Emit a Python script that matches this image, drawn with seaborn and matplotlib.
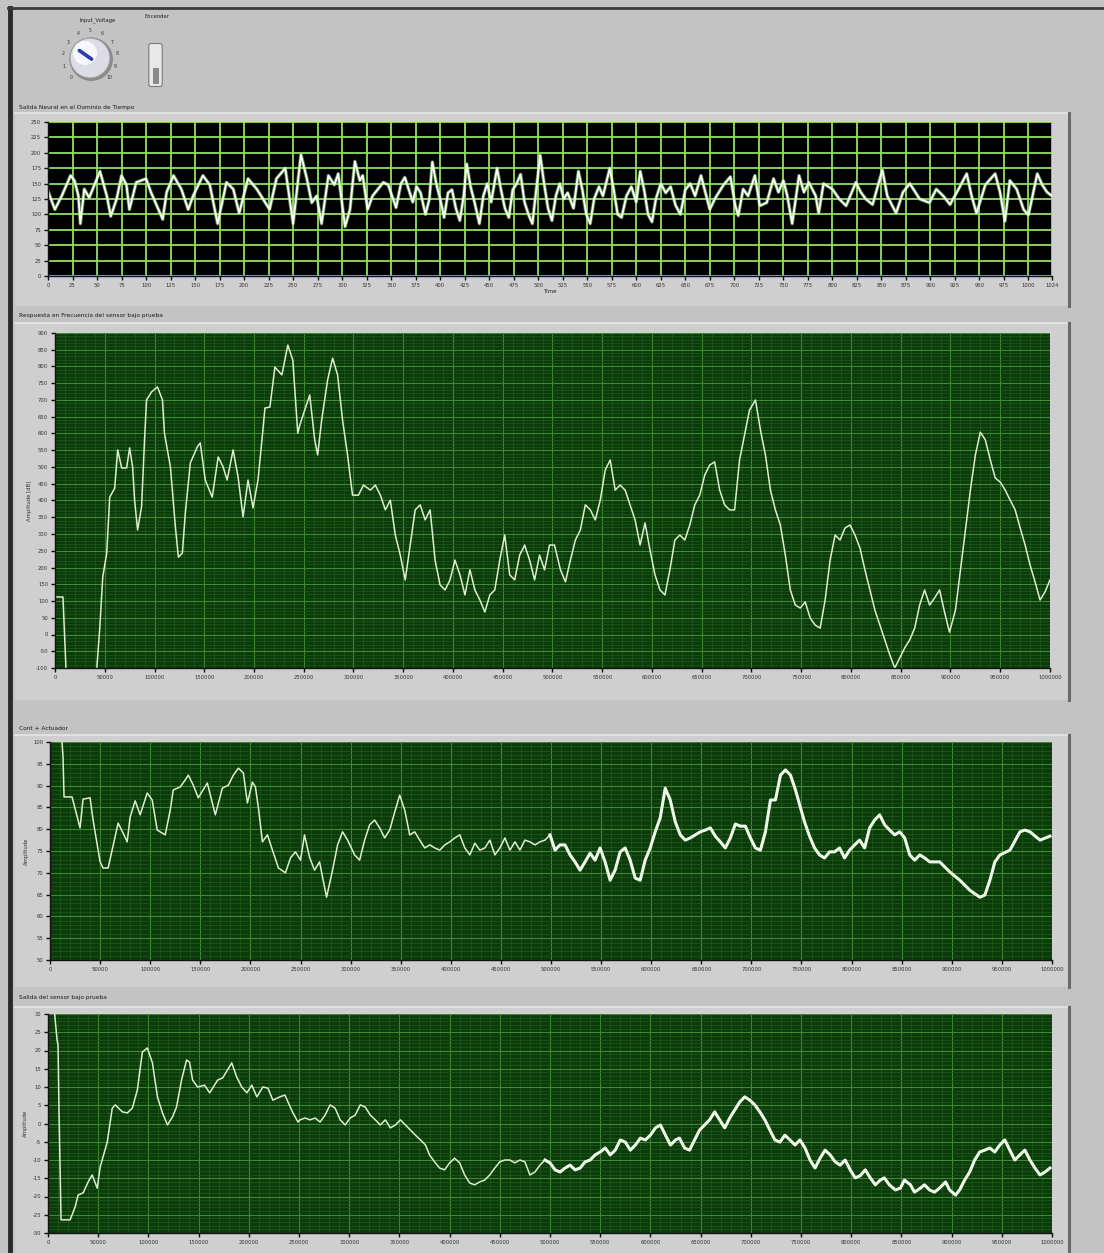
import numpy as np
import pandas as pd
import matplotlib
matplotlib.use("Agg")
import matplotlib.pyplot as plt
import matplotlib.patches as mpatches
from matplotlib.ticker import FixedLocator, MultipleLocator, FuncFormatter
import seaborn as sns

# ---------------- data ----------------
# Panel 1: neural output in time domain
neural_t = [0, 7, 14, 23, 27, 31, 33, 37, 42, 53, 60, 64, 70, 75, 80, 83, 90, 100, 105, 117,
            121, 128, 136, 143, 148, 158, 165, 173, 182, 189, 195, 204, 213, 226, 233, 242, 250,
            258, 264, 269, 274, 279, 286, 292, 296, 303, 308, 313, 318, 321, 326, 331, 342, 347,
            355, 360, 364, 368, 372, 376, 380, 385, 389, 392, 396, 400, 404, 408, 412, 416, 420,
            424, 427, 431, 435, 440, 444, 448, 452, 458, 462, 466, 470, 474, 478, 482, 486, 490,
            494, 498, 502, 506, 510, 514, 518, 522, 526, 530, 536, 541, 545, 549, 553, 557, 562,
            566, 573, 577, 581, 585, 590, 595, 600, 604, 608, 612, 616, 620, 625, 630, 635, 640,
            645, 650, 655, 660, 666, 675, 680, 689, 696, 701, 704, 709, 714, 721, 726, 733, 740,
            745, 750, 754, 759, 766, 771, 776, 783, 786, 791, 800, 807, 814, 824, 829, 834, 841,
            851, 856, 865, 872, 879, 889, 899, 906, 913, 920, 927, 937, 942, 947, 956, 966, 971,
            976, 981, 988, 995, 1000, 1009, 1014, 1019, 1024]
neural_v = [138, 108, 130, 163, 155, 130, 85, 141, 127, 170, 130, 97, 125, 163, 148, 108, 152, 158,
            136, 92, 136, 163, 141, 108, 130, 163, 148, 85, 152, 141, 102, 158, 141, 108, 158, 175,
            85, 197, 158, 119, 130, 85, 163, 148, 166, 80, 108, 186, 155, 163, 108, 130, 152, 148,
            111, 150, 160, 140, 120, 145, 135, 100, 125, 185, 150, 125, 95, 135, 140, 110, 90,
            130, 182, 145, 120, 85, 130, 150, 120, 175, 140, 110, 95, 140, 150, 165, 120, 100,
            85, 140, 196, 150, 110, 90, 130, 150, 125, 135, 110, 170, 140, 100, 85, 125, 145,
            130, 175, 140, 100, 95, 130, 145, 120, 170, 140, 100, 88, 125, 150, 135, 145, 115,
            100, 140, 150, 130, 163, 108, 125, 148, 161, 114, 98, 141, 130, 163, 114, 119, 158,
            136, 155, 130, 85, 163, 136, 152, 130, 102, 150, 141, 125, 114, 152, 136, 125, 116,
            172, 130, 102, 136, 150, 125, 119, 141, 130, 116, 136, 166, 130, 102, 148, 166, 136,
            89, 155, 141, 108, 99, 166, 148, 136, 130]

# Panel 2: frequency response (Hz, dB)
resp_f = [0, 3000, 8000, 11000, 13000, 40000, 42000, 45000, 48000, 52000, 55000, 60000, 63000,
          67000, 72000, 75000, 78000, 80000, 83000, 87000, 90000, 92000, 97000, 103000, 108000,
          110000, 116000, 121000, 124000, 128000, 131000, 136000, 143000, 146000, 151000, 158000,
          164000, 169000, 173000, 179000, 184000, 189000, 194000, 199000, 204000, 208000, 211000,
          216000, 221000, 228000, 234000, 239000, 244000, 246000, 251000, 256000, 261000, 264000,
          268000, 274000, 279000, 284000, 289000, 294000, 299000, 305000, 310000, 317000, 322000,
          327000, 332000, 337000, 342000, 347000, 352000, 357000, 362000, 367000, 372000, 377000,
          382000, 387000, 392000, 397000, 402000, 407000, 412000, 417000, 422000, 427000, 432000,
          437000, 442000, 447000, 452000, 457000, 462000, 467000, 472000, 477000, 482000, 487000,
          492000, 497000, 502000, 508000, 513000, 518000, 523000, 528000, 533000, 538000, 543000,
          548000, 553000, 558000, 563000, 568000, 573000, 578000, 583000, 588000, 593000, 598000,
          603000, 608000, 613000, 618000, 623000, 628000, 633000, 638000, 643000, 648000, 653000,
          658000, 663000, 668000, 673000, 678000, 683000, 688000, 693000, 698000, 704000, 709000,
          714000, 719000, 724000, 729000, 734000, 739000, 744000, 749000, 754000, 759000, 764000,
          769000, 774000, 779000, 784000, 789000, 794000, 799000, 804000, 809000, 814000, 819000,
          824000, 829000, 834000, 839000, 844000, 849000, 854000, 859000, 864000, 869000, 874000,
          879000, 884000, 889000, 894000, 899000, 905000, 910000, 915000, 920000, 925000, 930000,
          935000, 940000, 945000, 950000, 955000, 960000, 965000, 970000, 975000, 980000, 985000,
          990000, 995000, 1000000]
resp_db = [112, 112, 112, -100, -195, -195, -100, 19, 172, 243, 410, 437, 551, 497, 497, 557, 500,
           401, 312, 381, 581, 700, 724, 739, 700, 601, 500, 321, 231, 243, 363, 512, 560, 572,
           461, 410, 530, 500, 461, 551, 470, 351, 461, 378, 461, 581, 676, 679, 798, 775, 864,
           819, 601, 625, 670, 715, 581, 536, 640, 760, 825, 775, 640, 536, 416, 416, 446, 431,
           446, 416, 372, 401, 297, 237, 163, 267, 372, 387, 342, 372, 222, 148, 133, 163, 222,
           178, 118, 193, 133, 103, 67, 118, 133, 222, 297, 178, 163, 237, 267, 222, 163, 237,
           193, 267, 267, 193, 157, 222, 282, 312, 387, 372, 342, 401, 491, 521, 431, 446, 431,
           387, 342, 267, 333, 252, 178, 133, 118, 193, 282, 297, 282, 327, 387, 416, 476, 506,
           515, 431, 387, 372, 372, 521, 596, 670, 700, 610, 536, 431, 372, 327, 237, 133, 88,
           79, 97, 49, 28, 19, 103, 222, 297, 282, 318, 327, 297, 258, 193, 133, 73, 28, -16,
           -61, -100, -70, -40, -16, 19, 88, 133, 88, 109, 133, 67, 7, 73, 193, 312, 431, 536,
           604, 581, 521, 467, 455, 431, 401, 372, 318, 267, 207, 157, 103, 127, 163]

# Panel 3: controller + actuator
act_f = [0, 11000, 12000, 13000, 14000, 22000, 28000, 30000, 33000, 40000, 43000, 50000, 53000,
         58000, 62000, 68000, 73000, 77000, 80000, 85000, 90000, 97000, 102000, 107000, 115000,
         120000, 123000, 130000, 135000, 138000, 143000, 148000, 157000, 165000, 172000, 178000,
         183000, 188000, 193000, 197000, 202000, 205000, 208000, 212000, 217000, 222000, 228000,
         235000, 240000, 245000, 250000, 254000, 259000, 264000, 269000, 276000, 282000, 287000,
         292000, 297000, 304000, 309000, 314000, 319000, 324000, 329000, 334000, 339000, 344000,
         349000, 354000, 359000, 364000, 369000, 374000, 379000, 384000, 389000, 394000, 399000,
         404000, 409000, 414000, 419000, 424000, 429000, 434000, 439000, 444000, 449000, 454000,
         459000, 464000, 469000, 474000, 479000, 484000, 489000, 494000, 499000, 504000, 509000,
         514000, 519000, 524000, 529000, 534000, 539000, 544000, 549000, 554000, 559000, 564000,
         569000, 574000, 579000, 584000, 589000, 594000, 599000, 604000, 609000, 614000, 619000,
         624000, 629000, 634000, 639000, 644000, 649000, 654000, 659000, 664000, 669000, 674000,
         679000, 684000, 689000, 694000, 699000, 704000, 709000, 714000, 719000, 724000, 729000,
         734000, 739000, 744000, 749000, 753000, 758000, 763000, 768000, 773000, 778000, 783000,
         788000, 793000, 798000, 803000, 808000, 813000, 818000, 823000, 828000, 833000, 838000,
         843000, 848000, 853000, 858000, 863000, 868000, 873000, 878000, 888000, 898000, 908000,
         918000, 928000, 933000, 938000, 943000, 948000, 958000, 968000, 973000, 978000, 988000,
         998000]
act_amp = [110, 110, 100, 96.6, 87.4, 87.4, 82.1, 80.3, 86.9, 87.2, 82.1, 72.5, 71.1, 71.1,
           75.2, 81.4, 79.1, 77.1, 82.8, 86.5, 83.3, 88.3, 86.7, 79.8, 78.7, 84.4, 89.0, 89.7,
           91.3, 92.4, 90.1, 87.2, 90.6, 83.3, 89.4, 90.1, 92.4, 94.0, 92.9, 86.0, 90.8, 89.7,
           84.9, 77.1, 78.7, 75.2, 71.1, 70.0, 73.4, 74.8, 72.9, 78.7, 73.6, 70.6, 72.5, 64.4,
           70.6, 76.4, 79.4, 77.5, 74.1, 72.9, 77.5, 81.0, 82.1, 80.3, 78.0, 79.8, 83.9, 87.8,
           84.4, 78.7, 79.4, 77.5, 75.7, 76.4, 75.7, 75.2, 76.4, 77.1, 78.0, 78.7, 75.7, 74.1,
           76.8, 75.2, 75.7, 77.5, 74.1, 75.7, 78.0, 75.2, 77.1, 75.2, 77.5, 77.1, 76.4, 77.1,
           77.5, 78.7, 75.2, 76.4, 76.4, 74.1, 72.5, 70.6, 72.5, 74.5, 72.9, 75.7, 72.5, 68.3,
           70.6, 74.8, 75.7, 72.9, 68.8, 68.3, 72.9, 75.7, 79.4, 82.6, 89.4, 86.7, 81.7, 78.7,
           77.5, 78.0, 78.7, 79.4, 79.8, 80.3, 78.4, 77.1, 75.7, 78.0, 81.2, 80.7, 80.7, 78.0,
           75.7, 75.2, 79.4, 86.7, 86.7, 92.4, 93.6, 92.4, 89.0, 84.9, 81.7, 78.4, 75.7, 74.1,
           73.4, 74.8, 74.8, 75.7, 73.4, 75.2, 76.4, 77.5, 75.7, 80.3, 82.1, 83.3, 81.0, 79.8,
           78.7, 79.4, 78.0, 74.1, 72.9, 74.1, 73.4, 72.5, 72.5, 70.2, 68.3, 66.0, 64.4, 64.9,
           68.3, 72.5, 74.1, 75.2, 79.4, 79.8, 79.4, 77.5, 78.4]

# Panel 4: sensor output
sensor_f = [0, 6000, 9000, 10000, 11000, 13000, 22000, 27000, 30000, 35000, 40000, 44000, 49000,
            52000, 59000, 64000, 67000, 74000, 79000, 84000, 89000, 94000, 99000, 104000, 109000,
            114000, 119000, 124000, 128000, 133000, 138000, 141000, 144000, 149000, 156000,
            161000, 169000, 174000, 183000, 188000, 193000, 198000, 203000, 208000, 214000,
            219000, 224000, 231000, 236000, 239000, 244000, 249000, 251000, 256000, 261000,
            266000, 271000, 276000, 281000, 286000, 291000, 296000, 301000, 306000, 311000,
            316000, 321000, 326000, 331000, 336000, 341000, 346000, 351000, 356000, 361000,
            366000, 371000, 376000, 380000, 385000, 390000, 395000, 400000, 405000, 410000,
            415000, 420000, 425000, 430000, 435000, 440000, 445000, 450000, 455000, 460000,
            465000, 470000, 475000, 480000, 485000, 490000, 495000, 500000, 505000, 510000,
            515000, 520000, 525000, 530000, 535000, 540000, 545000, 550000, 555000, 560000,
            565000, 570000, 575000, 580000, 585000, 590000, 595000, 600000, 605000, 610000,
            615000, 620000, 625000, 629000, 634000, 639000, 644000, 649000, 654000, 659000,
            664000, 669000, 674000, 679000, 684000, 689000, 694000, 699000, 704000, 709000,
            714000, 719000, 724000, 729000, 734000, 739000, 744000, 749000, 754000, 759000,
            764000, 769000, 774000, 779000, 784000, 789000, 794000, 799000, 804000, 809000,
            814000, 819000, 824000, 829000, 833000, 838000, 844000, 849000, 853000, 859000,
            863000, 869000, 873000, 878000, 883000, 888000, 894000, 898000, 904000, 908000,
            913000, 918000, 923000, 928000, 933000, 938000, 943000, 948000, 953000, 958000,
            963000, 968000, 973000, 978000, 983000, 988000, 993000, 998000]
sensor_amp = [40, 32, 22.9, 21.5, 2.9, -26.4, -26.4, -22.9, -19.6, -19.0, -16.0, -14.1, -17.7,
              -11.9, -5.1, 4.2, 5.1, 3.2, 2.9, 4.2, 9.2, 19.6, 20.7, 16.6, 7.3, 2.9, -0.4, 1.8,
              4.5, 11.9, 17.4, 16.8, 11.9, 10.0, 10.5, 8.4, 11.9, 12.5, 16.6, 12.7, 10.0, 8.4,
              10.5, 7.3, 10.0, 9.7, 6.4, 7.3, 7.8, 5.9, 2.9, 0.4, 1.0, 1.5, 1.0, 1.5, 0.4, 2.3,
              5.1, 4.2, 1.0, -0.4, 1.5, 2.3, 5.1, 4.5, 2.3, 1.0, -0.4, 1.0, -1.2, -0.4, 1.0,
              -0.4, -1.8, -3.2, -4.5, -5.9, -8.6, -10.5, -12.2, -12.7, -10.8, -9.5, -10.8,
              -14.1, -16.3, -16.8, -16.0, -15.5, -14.1, -12.2, -10.5, -10.0, -10.0, -10.8,
              -10.0, -10.5, -14.1, -13.3, -11.4, -10.0, -10.8, -12.7, -13.3, -12.2, -11.4,
              -12.7, -12.2, -10.5, -10.0, -8.6, -7.8, -6.7, -8.6, -7.3, -4.5, -5.1, -7.3, -5.9,
              -4.0, -4.5, -3.2, -1.2, -0.4, -3.2, -5.9, -4.5, -4.0, -6.7, -7.3, -4.5, -1.8,
              -0.4, 1.0, 3.2, 1.0, -1.2, 1.5, 3.7, 5.9, 7.3, 6.4, 5.1, 3.2, 1.0, -1.8, -4.5,
              -5.1, -3.2, -4.5, -5.9, -4.5, -6.7, -10.0, -12.2, -9.5, -7.3, -8.6, -10.5, -11.4,
              -10.0, -12.7, -14.9, -14.3, -12.7, -14.9, -16.8, -15.5, -14.9, -16.8, -18.2,
              -17.7, -15.5, -16.8, -18.8, -17.7, -16.8, -18.2, -18.8, -17.7, -16.0, -18.2,
              -19.6, -18.2, -15.5, -13.3, -10.0, -7.8, -7.3, -6.7, -7.8, -5.9, -4.5, -7.3,
              -10.0, -8.6, -7.3, -10.0, -12.2, -14.1, -13.3, -12.2]

titles = ["Salida Neural en el Dominio de Tiempo",
          "Respuesta en Frecuencia del sensor bajo prueba",
          "Cont + Actuador",
          "Salida del sensor bajo prueba"]
ylabels = ["", "Amplitude [dB]", "Amplitude", "Amplitude"]
knob_labels = ["0", "1", "2", "3", "4", "5", "6", "7", "8", "9", "10"]

# ---------------- figure ----------------
W, H = 1104, 1253
BG = "#c3c3c3"
fig = plt.figure(figsize=(W / 100, H / 100), dpi=100, facecolor=BG)
plt.rcParams["font.family"] = ["DejaVu Sans"]


def box(x0, y0, x1, y1):
    return [x0 / W, 1 - y1 / H, (x1 - x0) / W, (y1 - y0) / H]


def fx(x):
    return x / W


def fy(y):
    return 1 - y / H


# outer dark border
fig.add_artist(plt.Line2D([fx(10), fx(10)], [fy(8), fy(1253)], color="#2a2a2a", lw=3.5))
fig.add_artist(plt.Line2D([fx(8), fx(1104)], [fy(8), fy(8)], color="#3a3a3a", lw=2.0))

# raised graph frames
for (y0, y1) in [(113, 306), (323, 700), (735, 987), (1007, 1253)]:
    fig.add_artist(mpatches.Rectangle((fx(15), fy(y1)), fx(1070) - fx(15), fy(y0) - fy(y1),
                                      transform=fig.transFigure, facecolor="#cfcfcf",
                                      edgecolor="none", zorder=0))
    fig.add_artist(plt.Line2D([fx(15), fx(1068)], [fy(y0), fy(y0)], color="#e6e6e6", lw=1.2))
    fig.add_artist(plt.Line2D([fx(1069), fx(1069)], [fy(y0), fy(min(y1, 1253))],
                              color="#6a6a6a", lw=2.2))

# titles
for t, y in zip(titles, [108, 316, 728, 998]):
    fig.text(fx(19), fy(y), t, fontsize=4.2, color="#1a1a1a", va="center", ha="left")

# knob (centre ~ (90, 58) px, radius ~20 px)
axk = fig.add_axes(box(55, 26, 125, 92))
axk.set_xlim(-35, 35)
axk.set_ylim(-34, 32)
axk.set_aspect("equal")
axk.axis("off")
axk.add_patch(mpatches.Circle((1.2, -1.2), 21, color="#8a8a8a"))
axk.add_patch(mpatches.Circle((0, 0), 20, facecolor="#dcdce4", edgecolor="#9a9a9a", lw=0.8))
axk.add_patch(mpatches.Circle((-5, 5), 12, facecolor="#f6f6fc", edgecolor="none"))
ang = np.deg2rad(145)
axk.plot([-2 * np.cos(ang), 13 * np.cos(ang)], [-2 * np.sin(ang), 13 * np.sin(ang)],
         color="#2a3ab0", lw=2.6, solid_capstyle="round")
for lab, a in zip(knob_labels, np.linspace(225, -45, len(knob_labels))):
    r = np.deg2rad(a)
    axk.text(27 * np.cos(r), 27 * np.sin(r), lab, fontsize=3.3, color="#333",
             ha="center", va="center")
fig.text(fx(98), fy(20), "Input_Voltage", fontsize=3.8, ha="center", va="center", color="#222")
fig.text(fx(157), fy(17), "Encender", fontsize=3.8, ha="center", va="center", color="#222")

# toggle switch
fig.add_artist(mpatches.FancyBboxPatch((fx(151), fy(84)), fx(9), fy(46) - fy(84),
                                       boxstyle="round,pad=0.002", transform=fig.transFigure,
                                       facecolor="#e8e8e8", edgecolor="#7a7a7a", lw=0.8))
fig.add_artist(mpatches.Rectangle((fx(152.5), fy(84)), fx(6), fy(68) - fy(84),
                                  transform=fig.transFigure, facecolor="#8a8a8a",
                                  edgecolor="none"))

fmt_int = FuncFormatter(lambda v, p: f"{int(round(v))}")


def base_style(ax):
    for s in ["top", "right"]:
        ax.spines[s].set_visible(False)
    for s in ["left", "bottom"]:
        ax.spines[s].set_color("#111111")
        ax.spines[s].set_linewidth(1.0)
    ax.tick_params(axis="both", which="major", direction="out", length=3, width=1.0,
                   color="#111111", labelsize=3.8, labelcolor="#333333", pad=2)
    ax.tick_params(axis="both", which="minor", length=0)
    ax.set_axisbelow(True)


# ---- panel 1 ----
ax1 = fig.add_axes(box(48, 122, 1052, 276))
ax1.set_facecolor("black")
d1 = pd.DataFrame({"t": neural_t, "v": neural_v})
sns.lineplot(data=d1, x="t", y="v", ax=ax1, color="#9fe08a", lw=2.6, estimator=None,
             sort=False, alpha=0.55)
sns.lineplot(data=d1, x="t", y="v", ax=ax1, color="#f8fff4", lw=1.4, estimator=None,
             sort=False)
ax1.set_xlim(0, 1024)
ax1.set_ylim(0, 250)
ax1.xaxis.set_major_locator(FixedLocator(list(range(0, 1001, 25)) + [1024]))
ax1.yaxis.set_major_locator(MultipleLocator(25))
ax1.xaxis.set_major_formatter(fmt_int)
ax1.yaxis.set_major_formatter(fmt_int)
ax1.grid(True, which="major", color="#8fe060", lw=1.3)
base_style(ax1)
ax1.set_xlabel("Time", fontsize=4, color="#222", labelpad=1)
ax1.set_ylabel("")

# ---- panels 2-4 ----
specs = [
    (box(55, 333, 1050, 668), resp_f, resp_db, (-100, 900), 50, 10, False),
    (box(50, 742, 1052, 960), act_f, act_amp, (50, 100), 5, 1, True),
    (box(48, 1014, 1052, 1233), sensor_f, sensor_amp, (-30, 30), 5, 1, True),
]
for k, (rect, fx_, fy_, ylim, ymaj, ymin, thick_tail) in enumerate(specs):
    ax = fig.add_axes(rect)
    ax.set_facecolor("#0b3a0b")
    d = pd.DataFrame({"f": fx_, "a": fy_})
    sns.lineplot(data=d, x="f", y="a", ax=ax, color="#dcefd0", lw=1.1, estimator=None,
                 sort=False)
    if thick_tail:
        dt = d[d["f"] >= 495000]
        sns.lineplot(data=dt, x="f", y="a", ax=ax, color="#eef8e6", lw=2.2, estimator=None,
                     sort=False)
    ax.set_xlim(0, 1000000)
    ax.set_ylim(*ylim)
    ax.xaxis.set_major_locator(MultipleLocator(50000))
    ax.xaxis.set_minor_locator(MultipleLocator(10000))
    ax.yaxis.set_major_locator(MultipleLocator(ymaj))
    ax.yaxis.set_minor_locator(MultipleLocator(ymin))
    ax.xaxis.set_major_formatter(fmt_int)
    ax.yaxis.set_major_formatter(fmt_int)
    ax.grid(True, which="major", color="#3f8a32", lw=0.8)
    ax.grid(True, which="minor", color="#1f5a1c", lw=0.5)
    base_style(ax)
    ax.set_xlabel("")
    ax.set_ylabel(ylabels[k + 1], fontsize=3.8, color="#333", labelpad=3)

fig.savefig("out.png", dpi=100, facecolor=BG)
